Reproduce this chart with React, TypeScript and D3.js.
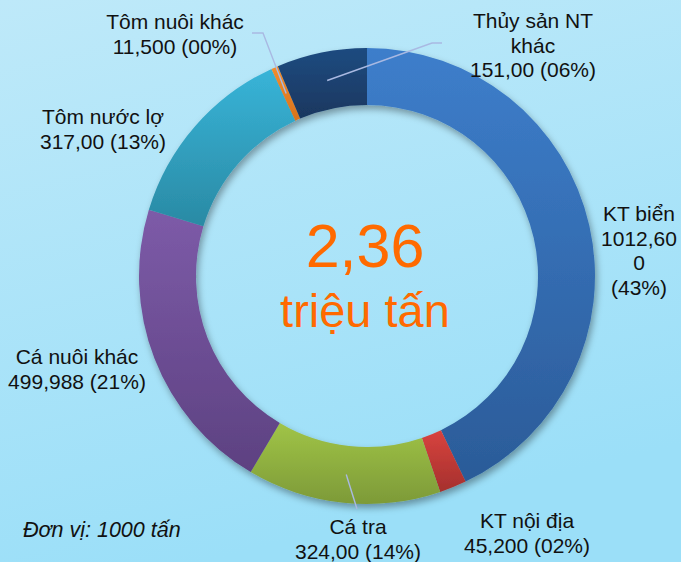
import React from "react";
import * as d3 from "d3";

const categories = ["KT biển", "KT nội địa", "Cá tra", "Cá nuôi khác", "Tôm nước lợ", "Tôm nuôi khác", "Thủy sản NT khác"];
const values = [1012.6, 45.2, 324.0, 499.988, 317.0, 11.5, 151.0];
const valueTexts = ["1012,600", "45,200", "324,00", "499,988", "317,00", "11,500", "151,00"];
const percentTexts = ["43%", "02%", "14%", "21%", "13%", "00%", "06%"];
const totalText = "2,36";
const unitText = "triệu tấn";
const noteText = "Đơn vị: 1000 tấn";

const W = 681;
const H = 562;
const cx = 367;
const cy = 276;
const outerR = 228;
const innerR = 171;

const colorsTop = ["#3D7ECB", "#D8433F", "#A0C447", "#7D5BA8", "#38B4D8", "#F38D2E", "#1F4B80"];
const colorsBottom = ["#2B5B98", "#A5302D", "#7D9A38", "#5D4181", "#2A8AA4", "#D8731C", "#19375F"];

// label layout: lines, anchor center x, first baseline y
const labelLayout: { lines: (v: string, p: string, c: string) => string[]; x: number; y: number; leader?: [number, number][] }[] = [
  { lines: (v, p, c) => [c, v.slice(0, 7), v.slice(7), `(${p})`], x: 639, y: 221 },
  { lines: (v, p, c) => [c, `${v} (${p})`], x: 527, y: 528 },
  { lines: (v, p, c) => [c, `${v} (${p})`], x: 358, y: 534, leader: [[357, 509]] },
  { lines: (v, p, c) => [c, `${v} (${p})`], x: 77, y: 364 },
  { lines: (v, p, c) => [c, `${v} (${p})`], x: 103, y: 124 },
  { lines: (v, p, c) => [c, `${v} (${p})`], x: 175, y: 29, leader: [[263, 33], [252, 33]] },
  { lines: (v, p, c) => [c.replace(" khác", ""), "khác", `${v} (${p})`], x: 533, y: 28, leader: [[432, 43], [442, 43]] },
];

export default function App() {
  const pie = d3.pie<number>().sort(null).value((d) => d)(values);
  const arc = d3.arc<d3.PieArcDatum<number>>().innerRadius(innerR).outerRadius(outerR);
  const font = "'Liberation Sans', Arial, sans-serif";
  const lh = 24.5;

  return (
    <svg width={W} height={H} style={{ position: "fixed", left: 0, top: 0, display: "block" }} xmlns="http://www.w3.org/2000/svg">
      <defs>
        <linearGradient id="bg" x1="0" y1="0" x2="0.3" y2="1">
          <stop offset="0" stopColor="#BEE9F9" />
          <stop offset="1" stopColor="#9BDFF8" />
        </linearGradient>
        {categories.map((_, i) => (
          <linearGradient key={i} id={`g${i}`} x1="0" y1="0" x2="0" y2="1">
            <stop offset="0" stopColor={colorsTop[i]} />
            <stop offset="1" stopColor={colorsBottom[i]} />
          </linearGradient>
        ))}
        <filter id="shadow" x="-20%" y="-20%" width="140%" height="140%">
          <feDropShadow dx="2" dy="4" stdDeviation="3.5" floodColor="#000" floodOpacity="0.35" />
        </filter>
      </defs>
      <rect x={0} y={0} width={W} height={H} fill="url(#bg)" />
      <g transform={`translate(${cx},${cy})`} filter="url(#shadow)">
        {pie.map((d, i) => (
          <path key={i} d={arc(d) || ""} fill={`url(#g${i})`} />
        ))}
      </g>
      {pie.map((d, i) => {
        const L = labelLayout[i];
        if (!L.leader) return null;
        const [px, py] = arc.centroid(d);
        const pts = [[px + cx, py + cy], ...L.leader];
        return (
          <polyline key={`l${i}`} points={pts.map((p) => p.join(",")).join(" ")} fill="none" stroke="#A9B9E2" strokeWidth={1.4} />
        );
      })}
      {pie.map((d, i) => {
        const L = labelLayout[i];
        const lines = L.lines(valueTexts[i], percentTexts[i], categories[i]);
        return (
          <text key={`t${i}`} x={L.x} y={L.y} textAnchor="middle" fontFamily={font} fontSize={21} fill="#111">
            {lines.map((s, j) => (
              <tspan key={j} x={L.x} y={L.y + j * lh}>{s}</tspan>
            ))}
          </text>
        );
      })}
      <text x={365} y={267} textAnchor="middle" fontFamily={font} fontSize={61} fill="#FF6A00">{totalText}</text>
      <text x={365} y={327} textAnchor="middle" fontFamily={font} fontSize={47} fill="#FF6A00">{unitText}</text>
      <text x={23} y={537} fontFamily={font} fontSize={21.5} fontStyle="italic" fill="#111">{noteText}</text>
    </svg>
  );
}
